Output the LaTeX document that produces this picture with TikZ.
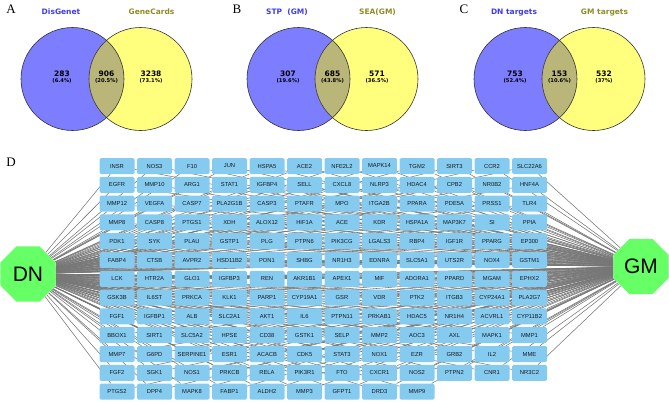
\documentclass[tikz,border=0pt]{standalone}
\usepackage{fontspec}
\setmainfont{Liberation Sans}
\newfontfamily\vennfont{DejaVu Sans}
\newfontfamily\panelfont{Liberation Serif}
\usetikzlibrary{shapes.geometric,backgrounds}

\definecolor{vennblue}{RGB}{125,125,255}
\definecolor{vennyellow}{RGB}{255,255,125}
\definecolor{vennmix}{RGB}{186,182,122}
\definecolor{labblue}{RGB}{60,60,240}
\definecolor{labolive}{RGB}{140,140,40}
\definecolor{genefill}{RGB}{133,203,240}
\definecolor{hubgreen}{RGB}{102,255,102}
\definecolor{edgegray}{RGB}{118,118,118}

\begin{document}
\begin{tikzpicture}[x=1pt,y=-1pt,
    panel/.style={font=\panelfont\fontsize{13}{13}\selectfont},
    setlab/.style={anchor=base,font=\vennfont\bfseries\fontsize{7.5}{8}\selectfont},
    count/.style={anchor=base,font=\vennfont\bfseries\fontsize{7.5}{8}\selectfont},
    pct/.style={anchor=base,font=\vennfont\bfseries\fontsize{5.2}{6}\selectfont},
    gene/.style={fill=genefill,rounded corners=1.5pt,minimum width=35pt,minimum height=16pt,
        inner sep=0pt,font=\fontsize{5.8}{6}\selectfont,text=black!90},
    hub/.style={regular polygon,regular polygon sides=8,fill=hubgreen,minimum size=60pt,
        inner sep=0pt,font=\fontsize{21}{21}\selectfont},
    edge/.style={draw=edgegray,line width=0.55pt}]
    \useasboundingbox (0,0) rectangle (669,402);

    % Venn diagrams A, B, C
    \foreach \ox/\pl/\la/\lb/\na/\pa/\nb/\pb/\nc/\pc in {
        0/A/DisGenet/GeneCards/283/6.4/906/20.5/3238/73.1,
        226/B/STP~~(GM)/SEA(GM)/307/19.6/685/43.8/571/36.5,
        453/C/DN targets/GM targets/753/52.4/153/10.6/532/37}
    {
        \fill [vennblue] ({\ox+72.5},79) circle (51.5);
        \fill [vennyellow] ({\ox+140.5},79) circle (51.5);
        \begin{scope}
            \clip ({\ox+72.5},79) circle (51.5);
            \fill [vennmix] ({\ox+140.5},79) circle (51.5);
        \end{scope}
        \draw [line width=0.6pt,black!80] ({\ox+72.5},79) circle (51.5);
        \draw [line width=0.6pt,black!80] ({\ox+140.5},79) circle (51.5);
        \node [panel] (\pl-tag) at ({\ox+11},9) {\pl};
        \node [setlab,text=labblue] (\pl-setl) at ({\ox+61},14) {\la};
        \node [setlab,text=labolive] (\pl-setr) at ({\ox+151.5},14) {\lb};
        \node [count] (\pl-nl) at ({\ox+62},76) {\na};
        \node [pct] (\pl-pl) at ({\ox+62},82) {(\pa\%)};
        \node [count] (\pl-nm) at ({\ox+106.5},76) {\nb};
        \node [pct] (\pl-pm) at ({\ox+106.5},82) {(\pb\%)};
        \node [count] (\pl-nr) at ({\ox+151},76) {\nc};
        \node [pct] (\pl-pr) at ({\ox+151},82) {(\pc\%)};
    }

    % network D
    \node [panel] (D-tag) at (11,162) {D};
    \node [hub] (DN) at (28,274) {DN};
    \node [hub] (GM) at (641,266.5) {GM};
    \foreach \name [count=\i from 0] in {
        INSR,NOS3,F10,JUN,HSPA5,ACE2,NFE2L2,MAPK14,TGM2,SIRT3,CCR2,SLC22A6,
        EGFR,MMP10,ARG1,STAT1,IGFBP4,SELL,CXCL8,NLRP3,HDAC4,CPB2,NR0B2,HNF4A,
        MMP12,VEGFA,CASP7,PLA2G1B,CASP3,PTAFR,MPO,ITGA2B,PPARA,PDE5A,PRSS1,TLR4,
        MMP8,CASP8,PTGS1,XDH,ALOX12,HIF1A,ACE,KDR,HSPA1A,MAP3K7,SI,PPIA,
        PDK1,SYK,PLAU,GSTP1,PLG,PTPN6,PIK3CG,LGALS3,RBP4,IGF1R,PPARG,EP300,
        FABP4,CTSB,AVPR2,HSD11B2,PON1,SHBG,NR1H3,EDNRA,SLC5A1,UTS2R,NOX4,GSTM1,
        LCK,HTR2A,GLO1,IGFBP3,REN,AKR1B1,APEX1,MIF,ADORA1,PPARD,MGAM,EPHX2,
        GSK3B,IL6ST,PRKCA,KLK1,PARP1,CYP19A1,GSR,VDR,PTK2,ITGB3,CYP24A1,PLA2G7,
        FGF1,IGFBP1,ALB,SLC2A1,AKT1,IL6,PTPN11,PRKAB1,HDAC5,NR1H4,ACVRL1,CYP11B2,
        BBOX1,SIRT1,SLC5A2,HPSE,CD38,GSTK1,SELP,MMP2,AOC3,AXL,MAPK1,MMP1,
        MMP7,G6PD,SERPINE1,ESR1,ACACB,CDK5,STAT3,NOX1,EZR,GRB2,IL2,MME,
        FGF2,SGK1,NOS1,PRKCB,RELA,PIK3R1,FTO,CXCR1,NOS2,PTPN2,CNR1,NR3C2,
        PTGS2,DPP4,MAPK8,FABP1,ALDH2,MMP3,GFPT1,DRD3,MMP9}
    {
        \pgfmathtruncatemacro\col{mod(\i,12)}
        \pgfmathtruncatemacro\row{int(\i/12)}
        \node [gene] (g\i) at ({117+37.5*\col},{166+18.8*\row}) {\name};
    }
    \begin{scope}[on background layer]
        \foreach \i in {0,...,152} {
            \draw [edge] (DN) -- (g\i);
            \draw [edge] (GM) -- (g\i);
        }
    \end{scope}
\end{tikzpicture}
\end{document}
